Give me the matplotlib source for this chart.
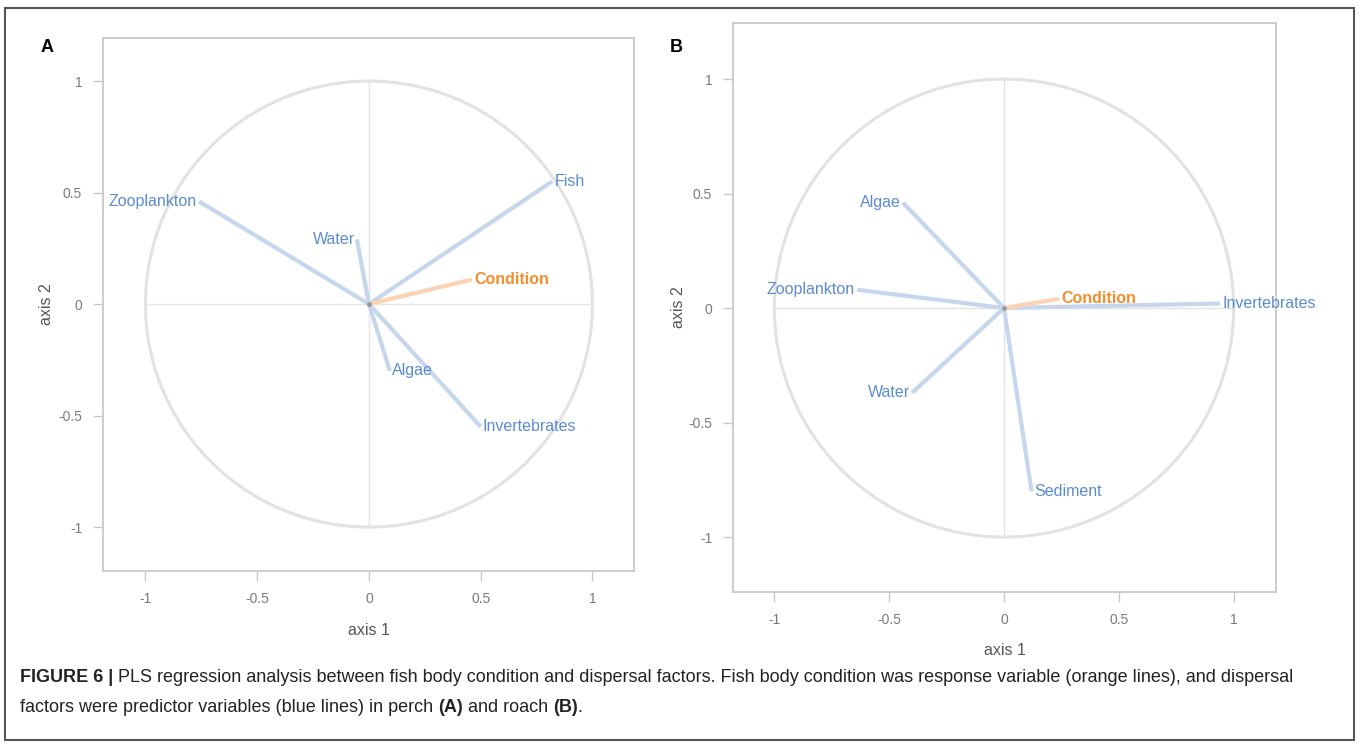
import numpy as np
import matplotlib
matplotlib.use('Agg')
import matplotlib.pyplot as plt
from matplotlib.patches import Rectangle

plt.rcParams['font.family'] = ['Liberation Sans', 'DejaVu Sans']

# panel A (perch)
perch_predictors = ['Zooplankton', 'Water', 'Fish', 'Algae', 'Invertebrates']
perch_x = [-0.76, -0.054, 0.82, 0.094, 0.50]
perch_y = [0.46, 0.29, 0.55, -0.30, -0.55]
perch_cond = (0.46, 0.11)

# panel B (roach)
roach_predictors = ['Algae', 'Zooplankton', 'Water', 'Invertebrates', 'Sediment']
roach_x = [-0.44, -0.64, -0.40, 0.94, 0.12]
roach_y = [0.46, 0.08, -0.37, 0.02, -0.80]
roach_cond = (0.24, 0.04)

ticks = [-1, -0.5, 0, 0.5, 1]
tick_labels = ['-1', '-0.5', '0', '0.5', '1']

BLUE_LINE = '#c6d6ec'
BLUE_TEXT = '#5b8bd0'
ORANGE_LINE = '#fbd3b2'
ORANGE_TEXT = '#f28e2b'
GREY = '#c8c8c8'

fig = plt.figure(figsize=(13.59, 7.48), dpi=100)


def draw_panel(ax, names, xs, ys, cond, xlim, ylim, ypad):
    t = np.linspace(0, 2 * np.pi, 400)
    ax.plot(np.cos(t), np.sin(t), color='#e2e2e2', lw=2.2, zorder=1)
    ax.plot([-1, 1], [0, 0], color='#e4e4e4', lw=1.0, zorder=1)
    ax.plot([0, 0], [-1, 1], color='#e4e4e4', lw=1.0, zorder=1)
    for name, x, y in zip(names, xs, ys):
        ax.plot([0, x], [0, y], color=BLUE_LINE, lw=3, solid_capstyle='butt', zorder=2)
        ha = 'left' if x > 0 else 'right'
        ax.text(x + (0.01 if x > 0 else -0.01), y, name, ha=ha, va='center',
                color=BLUE_TEXT, fontsize=11.5, zorder=4)
    ax.plot([0, cond[0]], [0, cond[1]], color=ORANGE_LINE, lw=3, solid_capstyle='butt', zorder=3)
    ax.text(cond[0] + 0.01, cond[1], 'Condition', ha='left', va='center',
            color=ORANGE_TEXT, fontsize=11.5, fontweight='bold', zorder=4)
    ax.plot([0], [0], 'o', ms=2.5, color='#999999', zorder=5)
    ax.set_xlim(*xlim)
    ax.set_ylim(*ylim)
    ax.set_xticks(ticks)
    ax.set_xticklabels(tick_labels)
    ax.set_yticks(ticks)
    ax.set_yticklabels(tick_labels)
    ax.tick_params(direction='out', length=7, width=1, color=GREY,
                   labelcolor='#7a7a7a', labelsize=10, pad=8)
    for s in ax.spines.values():
        s.set_color(GREY)
        s.set_linewidth(1.3)
    ax.set_xlabel('axis 1', color='#555555', fontsize=11.5, labelpad=12)
    ax.set_ylabel('axis 2', color='#555555', fontsize=11.5, labelpad=ypad)


ax_a = fig.add_axes([0.0758, 0.2366, 0.3907, 0.7126])
draw_panel(ax_a, perch_predictors, perch_x, perch_y, perch_cond,
           (-1.19, 1.186), (-1.197, 1.193), 3)
ax_b = fig.add_axes([0.5394, 0.2086, 0.3996, 0.7607])
draw_panel(ax_b, roach_predictors, roach_x, roach_y, roach_cond,
           (-1.18, 1.185), (-1.24, 1.245), 2)

fig.text(47 / 1359, 1 - 47 / 748, 'A', fontsize=13, fontweight='bold', ha='center', va='center')
fig.text(676 / 1359, 1 - 47 / 748, 'B', fontsize=13, fontweight='bold', ha='center', va='center')

# outer frame
fig.patches.append(Rectangle((5 / 1359, 1 - 740 / 748), 1349 / 1359, 732 / 748,
                             transform=fig.transFigure, fill=False,
                             edgecolor='#555555', lw=1.5))

# caption, drawn piece by piece so bold and regular runs line up
renderer = fig.canvas.get_renderer()


def caption_line(pieces, x0, y):
    x = x0
    for txt, bold in pieces:
        t = fig.text(x, y, txt, fontsize=13, fontweight='bold' if bold else 'normal',
                     ha='left', va='center', color='#222222')
        bb = t.get_window_extent(renderer=renderer)
        x += bb.width / fig.bbox.width


caption_line([('FIGURE 6 | ', True),
              ('PLS regression analysis between fish body condition and dispersal factors. '
               'Fish body condition was response variable (orange lines), and dispersal', False)],
             20 / 1359, 1 - 678 / 748)
caption_line([('factors were predictor variables (blue lines) in perch ', False), ('(A)', True),
              (' and roach ', False), ('(B)', True), ('.', False)],
             20 / 1359, 1 - 707 / 748)

fig.savefig('out.png', dpi=100)
